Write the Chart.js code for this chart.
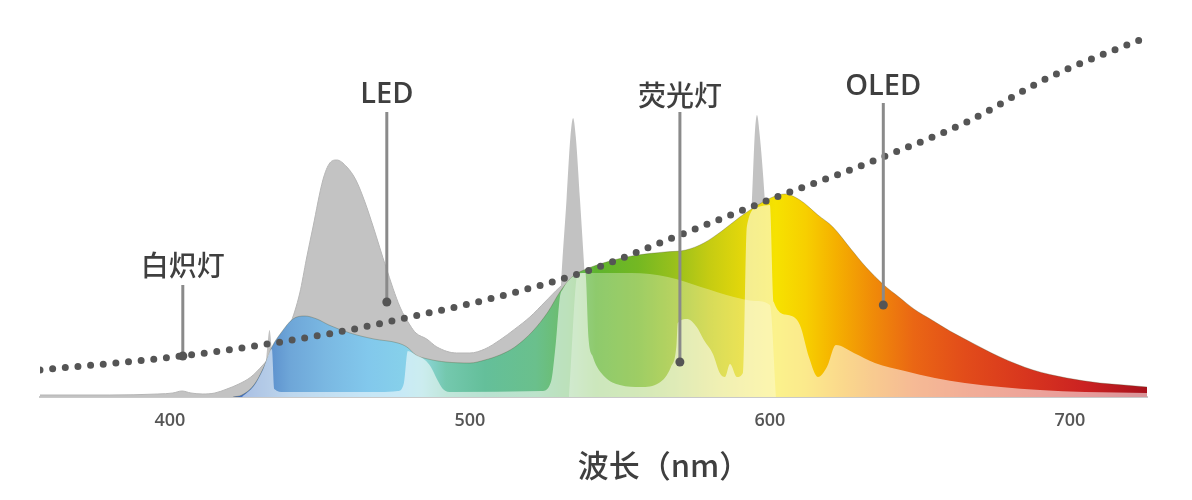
<!DOCTYPE html>
<html>
<head>
<meta charset="utf-8">
<script src="https://cdn.jsdelivr.net/npm/chart.js@4.4.1/dist/chart.umd.min.js"></script>
<style>
  html, body { margin: 0; padding: 0; background: #fff; }
</style>
</head>
<body>
<canvas id="spectrum" width="1192" height="500"></canvas>
<script>
// wavelength range shown (nm)
const nmMin = 356.7;
const nmMax = 725.7;

const tickNm = [400, 500, 600, 700];
const tickLabels = ['400', '500', '600', '700'];

// [wavelength nm, relative intensity]
const incandescent = [
  [356.7, 27], [404, 41], [454.5, 64], [480, 80], [507.8, 99], [540, 127], [570, 162],
  [604, 202], [625, 225], [637.7, 240], [665.6, 275], [693.3, 320], [725.7, 360]
];

const led = [
  [356.7, 2], [380, 2], [396, 3], [401, 4], [404, 6], [407, 4], [411, 3], [415, 4], [419, 8],
  [423, 13], [427, 20], [431, 32], [436, 50], [440, 72], [443.3, 104], [445.5, 138], [447.7, 170],
  [451, 217], [453.3, 234], [455.6, 237], [459, 230], [462, 217], [465, 195], [467.8, 170],
  [472, 130], [476.7, 90], [480, 72], [482, 64], [485.6, 58], [489, 50], [495.6, 44], [500, 44],
  [505, 48], [510, 57], [515, 68], [520, 80], [525, 95], [530, 110], [535, 122], [540, 128],
  [560, 135], [600, 120], [640, 70], [680, 25], [725.7, 8]
];

// fluorescent emission lines
const fluorSpikes = [
  [356.7, 0], [431, 0], [432.3, 45], [433.2, 67], [434, 45], [435, 0],
  [528, 0], [529.5, 60], [530.5, 120], [532.2, 197], [533.5, 260], [534.4, 279], [535.3, 260],
  [536.7, 197], [538.2, 125], [539.5, 60], [541, 0],
  [591, 0], [592.5, 100], [594, 197], [595, 265], [595.7, 282], [596.5, 265], [598.3, 197],
  [600, 100], [601.5, 0], [725.7, 0]
];

// fluorescent continuum (pale layer)
const fluorBody = [
  [424, 0], [428, 11], [431, 27], [434, 48], [434.8, 8], [438, 5], [470, 5], [476, 6], [478, 14],
  [479.3, 46], [482, 42], [485, 37], [487, 30], [489, 18], [491, 8], [494, 5], [524, 6], [527, 15],
  [528.5, 50], [530, 100], [531, 108], [533, 117], [535, 122], [538.5, 124], [539.5, 60],
  [541, 40], [545, 20], [550, 12], [557, 10], [563, 14], [567, 30], [568.8, 50], [569.3, 74],
  [572.5, 78], [575.6, 70], [578, 57], [581, 43], [583.3, 24], [585, 20], [586.7, 33], [589, 20],
  [591, 24], [592.3, 170], [596, 190], [600, 192], [601.3, 95], [606, 82], [610, 72], [613, 40],
  [616, 20], [619, 30], [622, 52], [628, 44], [635, 34], [645, 26], [655, 19], [665, 14],
  [677, 10], [690, 7], [705, 5], [725.7, 4]
];

const fluorBand = [
  [533, 0], [536, 124], [554, 124], [566, 120], [577, 110], [588, 100], [595, 96], [600, 92], [602, 0]
];

const oled = [
  [421, 0], [424, 2], [428, 12], [431, 28], [434, 50], [437, 64], [441, 78], [445, 81], [449, 78],
  [453, 72], [460, 64], [468, 58], [476, 54], [479, 50], [482, 42], [486, 38], [492, 35],
  [500, 34], [505, 37], [510, 42], [515, 50], [521, 66], [526, 85], [530, 105], [534, 120],
  [538, 127], [548, 137], [556, 142], [565, 145], [572, 147], [578, 154], [584, 166], [590, 180],
  [596, 192], [601, 200], [605, 203], [610, 197], [616, 182], [621, 170], [627, 148], [632, 130],
  [638, 112], [643, 100], [648, 88], [654, 77], [660, 66], [665.6, 57], [676.7, 40], [687.7, 27],
  [699, 19], [710, 14], [718, 12], [725.7, 10]
];

const callouts = [
  { text: '白炽灯', nm: 404.3, textY: 132, top: 112, dot: 41, cjk: true },
  { text: 'LED', nm: 472.3, textY: 302, top: 285, dot: 95, cjk: false },
  { text: '荧光灯', nm: 570, textY: 302, top: 285, dot: 35, cjk: true },
  { text: 'OLED', nm: 637.8, textY: 310, top: 294, dot: 92, cjk: false }
];

const axisTitle = '波长（nm）';

// colour stops of the OLED fill
const oledStops = [
  [421, '#3a68c0'], [430, '#5486c8'], [440, '#6ea6d8'], [452, '#7ab8e2'], [466, '#82c8ec'],
  [478, '#86d0ea'], [484, '#8ed6dc'], [492, '#74c8ae'], [505, '#64bf9a'], [522, '#6ac08c'],
  [533, '#6cbc66'], [542, '#5eb42e'], [556, '#74b822'], [568, '#98c01c'], [580, '#c6cc12'],
  [592, '#e6d80a'], [602, '#f6e200'], [612, '#f7cf00'], [622, '#f5b000'], [634, '#f08c08'],
  [648, '#ea6614'], [665, '#e24c1a'], [685, '#d8361e'], [705, '#cb2222'], [725.7, '#a8121c']
];

const toXY = arr => arr.map(p => ({ x: p[0], y: p[1] }));

function oledFill(context) {
  const chart = context.chart;
  if (!chart.chartArea) return '#9c6';
  const xs = chart.scales.x;
  const x0 = xs.getPixelForValue(oledStops[0][0]);
  const x1 = xs.getPixelForValue(oledStops[oledStops.length - 1][0]);
  const g = chart.ctx.createLinearGradient(x0, 0, x1, 0);
  oledStops.forEach(s => {
    g.addColorStop((xs.getPixelForValue(s[0]) - x0) / (x1 - x0), s[1]);
  });
  return g;
}

const calloutPlugin = {
  id: 'callouts',
  afterDatasetsDraw(chart) {
    const ctx = chart.ctx;
    const xs = chart.scales.x;
    const ys = chart.scales.y;
    ctx.save();
    callouts.forEach(c => {
      const px = xs.getPixelForValue(c.nm);
      ctx.strokeStyle = '#8a8a8a';
      ctx.lineWidth = 3;
      ctx.beginPath();
      ctx.moveTo(px, ys.getPixelForValue(c.top));
      ctx.lineTo(px, ys.getPixelForValue(c.dot));
      ctx.stroke();
      ctx.fillStyle = '#555';
      ctx.beginPath();
      ctx.arc(px, ys.getPixelForValue(c.dot), 4.5, 0, Math.PI * 2);
      ctx.fill();
      ctx.fillStyle = '#3f3f3f';
      ctx.textAlign = 'center';
      ctx.textBaseline = 'middle';
      ctx.font = c.cjk ? '500 28px "Noto Sans CJK SC"' : '600 29px "Open Sans"';
      ctx.fillText(c.text, px, ys.getPixelForValue(c.textY));
    });
    ctx.fillStyle = '#3f3f3f';
    ctx.font = '500 31px "Noto Sans CJK SC"';
    ctx.textAlign = 'center';
    ctx.textBaseline = 'middle';
    ctx.fillText(axisTitle, xs.getPixelForValue(564.7), chart.chartArea.bottom + 68);
    ctx.restore();
  }
};

const ctx = document.getElementById('spectrum').getContext('2d');
const spectrumChart = new Chart(ctx, {
  type: 'line',
  data: {
    datasets: [
      {
        label: '白炽灯',
        data: toXY(incandescent),
        borderColor: '#555',
        borderWidth: 7,
        borderDash: [0, 12.7],
        borderCapStyle: 'round',
        cubicInterpolationMode: 'monotone',
        fill: false,
        order: 0
      },
      {
        label: '荧光灯',
        data: toXY(fluorBody),
        backgroundColor: 'rgba(255,255,255,0.55)',
        borderWidth: 0,
        cubicInterpolationMode: 'monotone',
        fill: 'origin',
        order: 1
      },
      {
        label: '荧光灯 band',
        data: toXY(fluorBand),
        backgroundColor: 'rgba(255,255,255,0.3)',
        borderWidth: 0,
        cubicInterpolationMode: 'monotone',
        fill: 'origin',
        order: 2
      },
      {
        label: 'OLED',
        data: toXY(oled),
        backgroundColor: oledFill,
        borderColor: 'rgba(80,80,40,0.3)',
        borderWidth: 1,
        cubicInterpolationMode: 'monotone',
        fill: 'origin',
        order: 3
      },
      {
        label: '荧光灯 lines',
        data: toXY(fluorSpikes),
        backgroundColor: '#c2c2c2',
        borderWidth: 0,
        cubicInterpolationMode: 'monotone',
        fill: 'origin',
        order: 4
      },
      {
        label: 'LED',
        data: toXY(led),
        backgroundColor: '#c3c3c3',
        borderColor: '#b6b6b6',
        borderWidth: 1,
        cubicInterpolationMode: 'monotone',
        fill: 'origin',
        order: 5
      }
    ]
  },
  options: {
    responsive: false,
    animation: false,
    layout: { padding: { left: 40, right: 45, top: 27, bottom: 0 } },
    elements: { point: { radius: 0 } },
    plugins: {
      legend: { display: false },
      tooltip: { enabled: false }
    },
    scales: {
      x: {
        type: 'linear',
        min: nmMin,
        max: nmMax,
        afterBuildTicks: scale => {
          scale.ticks = tickNm.map(v => ({ value: v }));
        },
        afterFit: scale => {
          scale.height = 103;
        },
        ticks: {
          callback: (value, index) => tickLabels[index],
          color: '#555',
          font: { family: 'Open Sans', size: 18, weight: '600' },
          padding: 13,
          maxRotation: 0
        },
        grid: { display: false, drawTicks: false },
        border: { display: true, color: '#c9c9c9', width: 2 }
      },
      y: {
        display: false,
        min: 0,
        max: 370
      }
    }
  },
  plugins: [calloutPlugin]
});
</script>
</body>
</html>
